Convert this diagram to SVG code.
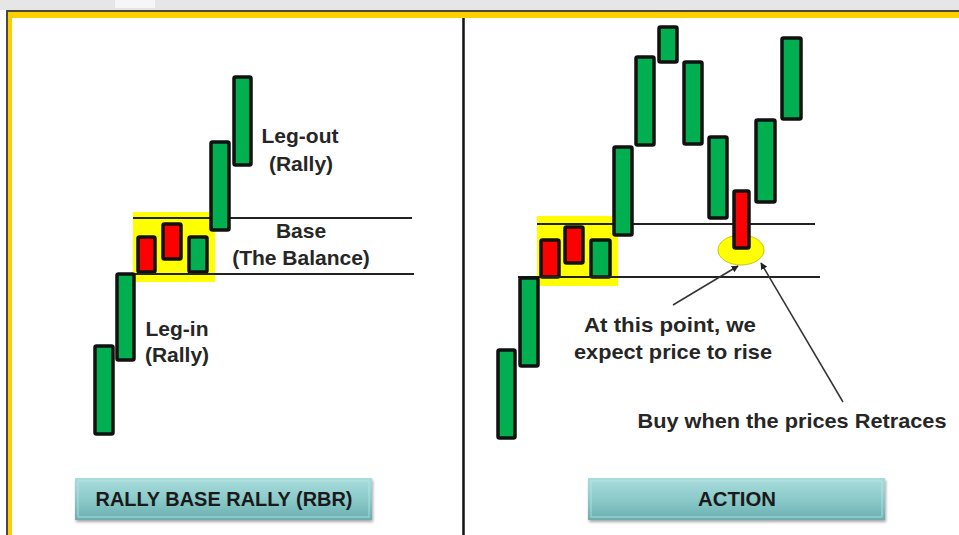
<svg xmlns="http://www.w3.org/2000/svg" width="959" height="535" viewBox="0 0 959 535">
<defs>
<style>
.g{fill:#00b050;stroke:#111;stroke-width:3.5;}
.r{fill:#ff0000;stroke:#111;stroke-width:3.5;}
.hl{fill:#ffff00;}
.ln{stroke:#222;stroke-width:2;fill:none;}
.t{font-family:"Liberation Sans",Arial,sans-serif;font-weight:bold;font-size:21px;fill:#262626;text-anchor:middle;}
.bt{font-family:"Liberation Sans",Arial,sans-serif;font-weight:bold;font-size:21px;fill:#1a1a1a;text-anchor:middle;}
.ar{stroke:#333;stroke-width:1.5;fill:none;marker-end:url(#ah);}
</style>
<marker id="ah" viewBox="0 0 10 10" refX="9" refY="5" markerWidth="7" markerHeight="7" orient="auto" markerUnits="userSpaceOnUse">
<path d="M0,0 L10,5 L0,10 z" fill="#222"/>
</marker>
<linearGradient id="btn" x1="0" y1="0" x2="0" y2="1">
<stop offset="0" stop-color="#a9dcdc"/>
<stop offset="0.5" stop-color="#8ccaca"/>
<stop offset="1" stop-color="#6aafb0"/>
</linearGradient>
<filter id="sh" x="-5%" y="-20%" width="110%" height="150%">
<feDropShadow dx="1" dy="2" stdDeviation="1.5" flood-color="#000" flood-opacity="0.35"/>
</filter>
</defs>

<rect x="0" y="0" width="959" height="535" fill="#ffffff"/>
<rect x="0" y="0" width="959" height="10" fill="#e6e6e6"/>
<rect x="115" y="0" width="40" height="8" fill="#f6f6f6"/>

<g id="frame">
<rect x="7" y="11" width="960" height="540" fill="none" stroke="#4a4a3a" stroke-width="2"/>
<rect x="8" y="12" width="960" height="6" fill="#ffcf00"/>
<rect x="8" y="12" width="4" height="530" fill="#ffcf00"/>
<line x1="463.5" y1="18" x2="463.5" y2="535" stroke="#111" stroke-width="2.5"/>
</g>

<g id="left-base">
<rect class="hl" x="133" y="212" width="82" height="70"/>
<rect class="r" x="138" y="237" width="17" height="35" rx="1.5"/>
<rect class="r" x="163" y="224" width="18" height="35" rx="1.5"/>
<rect class="g" x="189" y="237" width="18" height="35" rx="1.5"/>
</g>
<g id="left-lines">
<line class="ln" x1="133" y1="218" x2="412" y2="218"/>
<line class="ln" x1="133" y1="274" x2="414" y2="274"/>
</g>
<g id="left-legin">
<rect class="g" x="95" y="346" width="18" height="88" rx="1.5"/>
<rect class="g" x="117" y="274" width="17" height="86" rx="1.5"/>
</g>
<g id="left-legout">
<rect class="g" x="211" y="142" width="18" height="88" rx="1.5"/>
<rect class="g" x="234" y="77" width="17" height="88" rx="1.5"/>
</g>
<g id="left-labels">
<text class="t" x="300" y="143">Leg-out</text>
<text class="t" x="301" y="171">(Rally)</text>
<text class="t" x="301" y="238">Base</text>
<text class="t" x="301" y="265">(The Balance)</text>
<text class="t" x="177" y="336">Leg-in</text>
<text class="t" x="177" y="362">(Rally)</text>
</g>

<g id="right-base">
<rect class="hl" x="537" y="216" width="81" height="70"/>
<rect class="r" x="541" y="240" width="18" height="37" rx="1.5"/>
<rect class="r" x="565" y="227" width="18" height="36" rx="1.5"/>
<rect class="g" x="591" y="240" width="19" height="37" rx="1.5"/>
</g>
<g id="right-lines">
<line class="ln" x1="537" y1="224" x2="815" y2="224"/>
<line class="ln" x1="518" y1="277" x2="820" y2="277"/>
</g>
<g id="right-candles">
<rect class="g" x="498" y="350" width="17" height="88" rx="1.5"/>
<rect class="g" x="520" y="278" width="18" height="88" rx="1.5"/>
<rect class="g" x="614" y="147" width="18" height="88" rx="1.5"/>
<rect class="g" x="636" y="57" width="18" height="88" rx="1.5"/>
<rect class="g" x="659" y="27" width="18" height="35" rx="1.5"/>
<rect class="g" x="684" y="62" width="18" height="82" rx="1.5"/>
<rect class="g" x="709" y="137" width="18" height="81" rx="1.5"/>
<rect class="g" x="756" y="120" width="19" height="82" rx="1.5"/>
<rect class="g" x="782" y="38" width="19" height="81" rx="1.5"/>
</g>
<g id="retrace">
<ellipse cx="741" cy="250" rx="23" ry="15" fill="#ffff00" stroke="#c8c800" stroke-width="1"/>
<rect class="r" x="734" y="191" width="15" height="57" rx="1.5"/>
</g>
<g id="connectors">
<line class="ar" x1="673" y1="305" x2="738" y2="266"/>
<line class="ar" x1="843" y1="402" x2="761" y2="263"/>
</g>
<g id="right-labels">
<text class="t" x="670" y="332" textLength="172" lengthAdjust="spacingAndGlyphs">At this point, we</text>
<text class="t" x="673" y="359" textLength="198" lengthAdjust="spacingAndGlyphs">expect price to rise</text>
<text class="t" x="792" y="428" textLength="309" lengthAdjust="spacingAndGlyphs">Buy when the prices Retraces</text>
</g>

<g id="btn-rbr">
<rect x="75" y="478" width="297" height="42" fill="url(#btn)" filter="url(#sh)"/>
<rect x="78" y="481" width="291" height="36" fill="none" stroke="#c4eaea" stroke-width="1" opacity="0.7"/>
<text class="bt" x="224" y="506" textLength="257" lengthAdjust="spacingAndGlyphs">RALLY BASE RALLY (RBR)</text>
</g>
<g id="btn-action">
<rect x="588" y="478" width="297" height="42" fill="url(#btn)" filter="url(#sh)"/>
<rect x="591" y="481" width="291" height="36" fill="none" stroke="#c4eaea" stroke-width="1" opacity="0.7"/>
<text class="bt" x="737" y="506" textLength="78" lengthAdjust="spacingAndGlyphs">ACTION</text>
</g>
</svg>
